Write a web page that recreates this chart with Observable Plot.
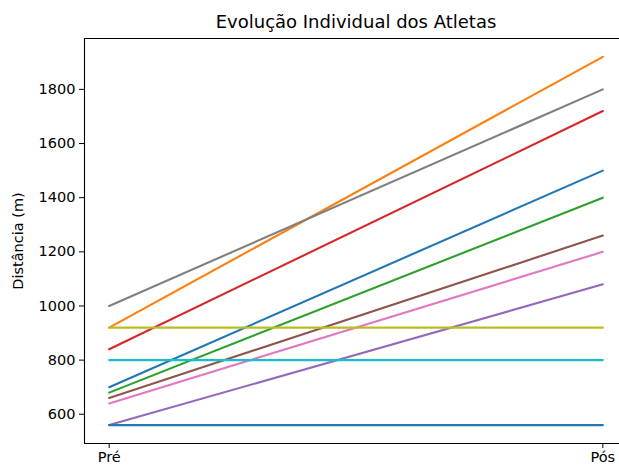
<!DOCTYPE html>
<html>
<head>
<meta charset="utf-8">
<script src="https://cdn.jsdelivr.net/npm/d3@7"></script>
<script src="https://cdn.jsdelivr.net/npm/@observablehq/plot@0.6"></script>
<style>
  body { margin: 0; background: #fff; }
  svg { font-family: "DejaVu Sans", sans-serif; }
</style>
</head>
<body>
<div id="chart"></div>
<script>
const title = "Evolução Individual dos Atletas";
const yLabel = "Distância (m)";
const phases = ["Pré", "Pós"];
const athletes = ["Atleta 1","Atleta 2","Atleta 3","Atleta 4","Atleta 5","Atleta 6","Atleta 7","Atleta 8","Atleta 9","Atleta 10","Atleta 11"];
const pre = [700, 920, 680, 840, 560, 660, 640, 1000, 920, 800, 560];
const pos = [1500, 1920, 1400, 1720, 1080, 1260, 1200, 1800, 920, 800, 560];
const colors = ["#1f77b4","#ff7f0e","#2ca02c","#d62728","#9467bd","#8c564b","#e377c2","#7f7f7f","#bcbd22","#17becf","#1f77b4"];
const yTicks = [600, 800, 1000, 1200, 1400, 1600, 1800];

const rows = [];
athletes.forEach((a, i) => {
  rows.push({athlete: a, idx: i, phase: 0, value: pre[i]});
  rows.push({athlete: a, idx: i, phase: 1, value: pos[i]});
});

const chart = Plot.plot({
  width: 619,
  height: 468,
  marginLeft: 84,
  marginRight: -8,
  marginTop: 38,
  marginBottom: 25,
  style: {fontFamily: "DejaVu Sans, sans-serif", fontSize: "14.5px", color: "#000", background: "#fff"},
  x: {domain: [-0.05, 1.05]},
  y: {domain: [492, 1988]},
  marks: [
    Plot.line(rows, {x: "phase", y: "value", z: "athlete", stroke: d => colors[d.idx], strokeWidth: 2.1}),
    Plot.axisY({ticks: yTicks, tickFormat: d3.format("d"), tickSize: 5, tickPadding: 4, fontSize: 14.5, label: yLabel, labelAnchor: "center", labelArrow: "none", labelOffset: 72}),
    Plot.axisX({ticks: [0, 1], tickFormat: d => phases[d], tickSize: 5, tickPadding: 3, fontSize: 14.5, label: null}),
    Plot.ruleX([-0.05], {stroke: "#000", strokeWidth: 1.1}),
    Plot.ruleY([492], {stroke: "#000", strokeWidth: 1.1}),
    Plot.ruleY([1988], {stroke: "#000", strokeWidth: 1.1}),
    Plot.text([title], {frameAnchor: "top", lineAnchor: "bottom", dy: -11, fontSize: 18, fill: "#000"})
  ]
});
document.getElementById("chart").appendChild(chart);
</script>
</body>
</html>
